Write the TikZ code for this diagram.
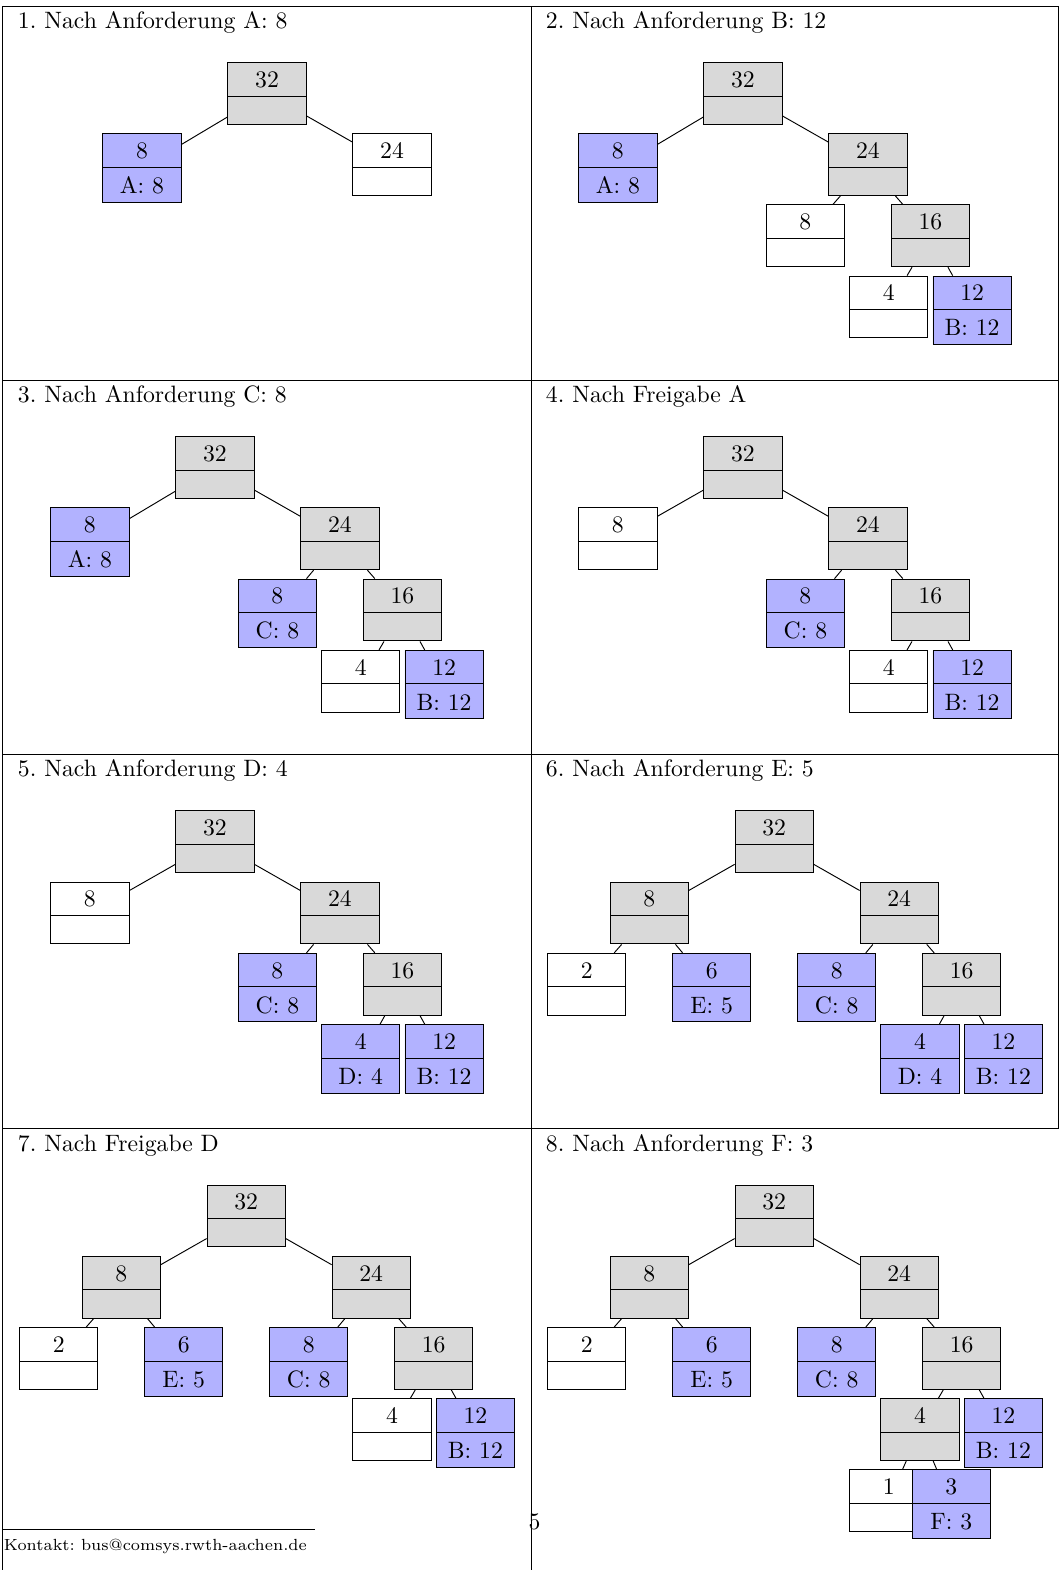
\documentclass[tikz,border=0pt]{standalone}
\usepackage{tikz}
\usetikzlibrary{shapes.multipart, positioning}

\frenchspacing

% Streben fuer die beiden Felder eines Blocks
\newcommand{\oben}{\rule[-3.55pt]{0pt}{13.8pt}}
\newcommand{\unten}{\rule[-3.55pt]{0pt}{14.35pt}}
\newcommand{\leer}{\rule{0pt}{11.5pt}}

\tikzset{
    block/.style={rectangle split, rectangle split parts=2, draw=black,
        minimum width=33pt, inner ysep=0pt, anchor=north,
        rectangle split empty part height=11.5pt,
        rectangle split empty part depth=0pt},
    frei/.style={block, fill=white},
    geteilt/.style={block, fill=gray!30},
    belegt/.style={block, fill=blue!30},
    titel/.style={anchor=base west, inner sep=0pt},
}

\begin{document}
\begin{tikzpicture}[x=0.4219pt, y=-0.4219pt]
\useasboundingbox (0,0) rectangle (1062,1570);

% Tabellenlinien
\foreach \y in {6, 380.2, 754.4, 1128.6}
    \draw (2.5,\y) -- (1058.5,\y);
\draw (2.5,6) -- (2.5,1570);
\draw (531.5,6) -- (531.5,1570);
\draw (1058.5,6) -- (1058.5,1128.6);

% 1
\node[titel] (t1) at (17.5,28.5) {1. Nach Anforderung A: 8};
\begin{scope}[shift={(267,62)}]
\node[geteilt] (p1r) at (0,0) {\oben 32\nodepart{two}\leer};
\node[belegt] (p1a) at (-125,71.2) {\oben 8\nodepart{two}\unten A: 8};
\node[frei] (p1b) at (125,71.2) {\oben 24\nodepart{two}\leer};
\end{scope}
\foreach \v/\k in {r/a, r/b}
    \draw (p1\v) -- (p1\k);

% 2
\node[titel] (t2) at (545.5,28.5) {2. Nach Anforderung B: 12};
\begin{scope}[shift={(742.9,62)}]
\node[geteilt] (p2r) at (0,0) {\oben 32\nodepart{two}\leer};
\node[belegt] (p2a) at (-125,71.2) {\oben 8\nodepart{two}\unten A: 8};
\node[geteilt] (p2b) at (125,71.2) {\oben 24\nodepart{two}\leer};
\node[frei] (p2ba) at (62.5,142.4) {\oben 8\nodepart{two}\leer};
\node[geteilt] (p2bb) at (187.5,142.4) {\oben 16\nodepart{two}\leer};
\node[frei] (p2bba) at (145.8,213.6) {\oben 4\nodepart{two}\leer};
\node[belegt] (p2bbb) at (229.2,213.6) {\oben 12\nodepart{two}\unten B: 12};
\end{scope}
\foreach \v/\k in {r/a, r/b, b/ba, b/bb, bb/bba, bb/bbb}
    \draw (p2\v) -- (p2\k);

% 3
\node[titel] (t3) at (17.5,402.7) {3. Nach Anforderung C: 8};
\begin{scope}[shift={(214.9,436.2)}]
\node[geteilt] (p3r) at (0,0) {\oben 32\nodepart{two}\leer};
\node[belegt] (p3a) at (-125,71.2) {\oben 8\nodepart{two}\unten A: 8};
\node[geteilt] (p3b) at (125,71.2) {\oben 24\nodepart{two}\leer};
\node[belegt] (p3ba) at (62.5,142.4) {\oben 8\nodepart{two}\unten C: 8};
\node[geteilt] (p3bb) at (187.5,142.4) {\oben 16\nodepart{two}\leer};
\node[frei] (p3bba) at (145.8,213.6) {\oben 4\nodepart{two}\leer};
\node[belegt] (p3bbb) at (229.2,213.6) {\oben 12\nodepart{two}\unten B: 12};
\end{scope}
\foreach \v/\k in {r/a, r/b, b/ba, b/bb, bb/bba, bb/bbb}
    \draw (p3\v) -- (p3\k);

% 4
\node[titel] (t4) at (545.5,402.7) {4. Nach Freigabe A};
\begin{scope}[shift={(742.9,436.2)}]
\node[geteilt] (p4r) at (0,0) {\oben 32\nodepart{two}\leer};
\node[frei] (p4a) at (-125,71.2) {\oben 8\nodepart{two}\leer};
\node[geteilt] (p4b) at (125,71.2) {\oben 24\nodepart{two}\leer};
\node[belegt] (p4ba) at (62.5,142.4) {\oben 8\nodepart{two}\unten C: 8};
\node[geteilt] (p4bb) at (187.5,142.4) {\oben 16\nodepart{two}\leer};
\node[frei] (p4bba) at (145.8,213.6) {\oben 4\nodepart{two}\leer};
\node[belegt] (p4bbb) at (229.2,213.6) {\oben 12\nodepart{two}\unten B: 12};
\end{scope}
\foreach \v/\k in {r/a, r/b, b/ba, b/bb, bb/bba, bb/bbb}
    \draw (p4\v) -- (p4\k);

% 5
\node[titel] (t5) at (17.5,776.9) {5. Nach Anforderung D: 4};
\begin{scope}[shift={(214.9,810.4)}]
\node[geteilt] (p5r) at (0,0) {\oben 32\nodepart{two}\leer};
\node[frei] (p5a) at (-125,71.2) {\oben 8\nodepart{two}\leer};
\node[geteilt] (p5b) at (125,71.2) {\oben 24\nodepart{two}\leer};
\node[belegt] (p5ba) at (62.5,142.4) {\oben 8\nodepart{two}\unten C: 8};
\node[geteilt] (p5bb) at (187.5,142.4) {\oben 16\nodepart{two}\leer};
\node[belegt] (p5bba) at (145.8,213.6) {\oben 4\nodepart{two}\unten D: 4};
\node[belegt] (p5bbb) at (229.2,213.6) {\oben 12\nodepart{two}\unten B: 12};
\end{scope}
\foreach \v/\k in {r/a, r/b, b/ba, b/bb, bb/bba, bb/bbb}
    \draw (p5\v) -- (p5\k);

% 6
\node[titel] (t6) at (545.5,776.9) {6. Nach Anforderung E: 5};
\begin{scope}[shift={(774.2,810.4)}]
\node[geteilt] (p6r) at (0,0) {\oben 32\nodepart{two}\leer};
\node[geteilt] (p6a) at (-125,71.2) {\oben 8\nodepart{two}\leer};
\node[frei] (p6aa) at (-187.5,142.4) {\oben 2\nodepart{two}\leer};
\node[belegt] (p6ab) at (-62.5,142.4) {\oben 6\nodepart{two}\unten E: 5};
\node[geteilt] (p6b) at (125,71.2) {\oben 24\nodepart{two}\leer};
\node[belegt] (p6ba) at (62.5,142.4) {\oben 8\nodepart{two}\unten C: 8};
\node[geteilt] (p6bb) at (187.5,142.4) {\oben 16\nodepart{two}\leer};
\node[belegt] (p6bba) at (145.8,213.6) {\oben 4\nodepart{two}\unten D: 4};
\node[belegt] (p6bbb) at (229.2,213.6) {\oben 12\nodepart{two}\unten B: 12};
\end{scope}
\foreach \v/\k in {r/a, r/b, a/aa, a/ab, b/ba, b/bb, bb/bba, bb/bbb}
    \draw (p6\v) -- (p6\k);

% 7
\node[titel] (t7) at (17.5,1151.1) {7. Nach Freigabe D};
\begin{scope}[shift={(246.2,1184.6)}]
\node[geteilt] (p7r) at (0,0) {\oben 32\nodepart{two}\leer};
\node[geteilt] (p7a) at (-125,71.2) {\oben 8\nodepart{two}\leer};
\node[frei] (p7aa) at (-187.5,142.4) {\oben 2\nodepart{two}\leer};
\node[belegt] (p7ab) at (-62.5,142.4) {\oben 6\nodepart{two}\unten E: 5};
\node[geteilt] (p7b) at (125,71.2) {\oben 24\nodepart{two}\leer};
\node[belegt] (p7ba) at (62.5,142.4) {\oben 8\nodepart{two}\unten C: 8};
\node[geteilt] (p7bb) at (187.5,142.4) {\oben 16\nodepart{two}\leer};
\node[frei] (p7bba) at (145.8,213.6) {\oben 4\nodepart{two}\leer};
\node[belegt] (p7bbb) at (229.2,213.6) {\oben 12\nodepart{two}\unten B: 12};
\end{scope}
\foreach \v/\k in {r/a, r/b, a/aa, a/ab, b/ba, b/bb, bb/bba, bb/bbb}
    \draw (p7\v) -- (p7\k);

% 8
\node[titel] (t8) at (545.5,1151.1) {8. Nach Anforderung F: 3};
\begin{scope}[shift={(774.2,1184.6)}]
\node[geteilt] (p8r) at (0,0) {\oben 32\nodepart{two}\leer};
\node[geteilt] (p8a) at (-125,71.2) {\oben 8\nodepart{two}\leer};
\node[frei] (p8aa) at (-187.5,142.4) {\oben 2\nodepart{two}\leer};
\node[belegt] (p8ab) at (-62.5,142.4) {\oben 6\nodepart{two}\unten E: 5};
\node[geteilt] (p8b) at (125,71.2) {\oben 24\nodepart{two}\leer};
\node[belegt] (p8ba) at (62.5,142.4) {\oben 8\nodepart{two}\unten C: 8};
\node[geteilt] (p8bb) at (187.5,142.4) {\oben 16\nodepart{two}\leer};
\node[geteilt] (p8bba) at (145.8,213.6) {\oben 4\nodepart{two}\leer};
\node[belegt] (p8bbb) at (229.2,213.6) {\oben 12\nodepart{two}\unten B: 12};
\node[frei] (p8bbaa) at (114.6,284.8) {\oben 1\nodepart{two}\leer};
\node[belegt] (p8bbab) at (177.1,284.8) {\oben 3\nodepart{two}\unten F: 3};
\end{scope}
\foreach \v/\k in {r/a, r/b, a/aa, a/ab, b/ba, b/bb, bb/bba, bb/bbb, bba/bbaa, bba/bbab}
    \draw (p8\v) -- (p8\k);

% Fusszeile
\draw (2.5,1529) -- (315,1529);
\node[titel, font=\fontsize{6.8pt}{8pt}\selectfont] (kontakt) at (3.5,1550) {Kontakt: bus@comsys.rwth-aachen.de};
\node[anchor=base, inner sep=0pt] (seite) at (534.5,1529) {5};

\end{tikzpicture}
\end{document}
